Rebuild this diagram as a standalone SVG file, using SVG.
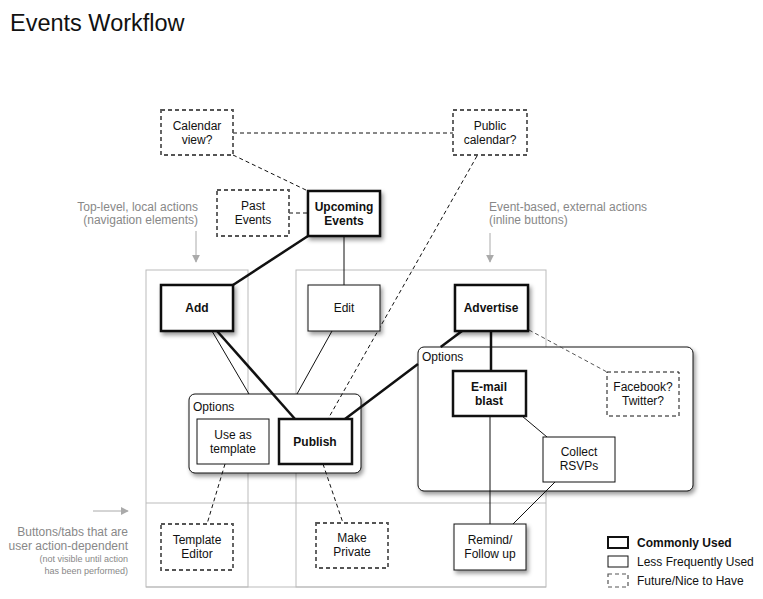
<svg xmlns="http://www.w3.org/2000/svg" width="763" height="599" viewBox="0 0 763 599">
<defs>
<filter id="sh" x="-20%" y="-20%" width="150%" height="160%">
<feDropShadow dx="2" dy="3" stdDeviation="2" flood-color="#000" flood-opacity="0.4"/>
</filter>
<marker id="ga" viewBox="0 0 10 10" refX="9" refY="5" markerWidth="8" markerHeight="8" markerUnits="userSpaceOnUse" orient="auto">
<path d="M0,0 L10,5 L0,10 z" fill="#aaa"/>
</marker>
</defs>
<style>
text{font-family:"Liberation Sans",Arial,sans-serif;font-size:12px;fill:#111;}
.t{text-anchor:middle;}
.b{font-weight:bold;}
.g{fill:#888;}
.thick{fill:#fff;stroke:#111;stroke-width:2.5;}
.thin{fill:#fff;stroke:#111;stroke-width:1;}
.dash{fill:#fff;stroke:#555;stroke-width:1.8;stroke-dasharray:4,3;}
.dashb{fill:#fff;stroke:#111;stroke-width:1;stroke-dasharray:4,3;}
.opt{fill:#fff;stroke:#111;stroke-width:1;}
.frame{fill:none;stroke:#bbb;stroke-width:1;}
.c1{stroke:#111;stroke-width:1;fill:none;}
.c3{stroke:#111;stroke-width:2.5;fill:none;}
.cd{stroke:#111;stroke-width:1;stroke-dasharray:4,3;fill:none;}
.cg{stroke:#aaa;stroke-width:1;fill:none;}
</style>
<rect width="763" height="599" fill="#fff"/>
<text x="10" y="31" style="font-size:23.5px">Events Workflow</text>

<g id="frames">
<rect class="frame" x="146" y="270" width="102" height="317"/>
<rect class="frame" x="296" y="270" width="250" height="317"/>
<line class="frame" x1="146" y1="503" x2="546" y2="503"/>
<line class="frame" x1="146" y1="587" x2="546" y2="587"/>
</g>

<g id="annotations">
<text class="g" x="198" y="211" text-anchor="end">Top-level, local actions</text>
<text class="g" x="198" y="224" text-anchor="end">(navigation elements)</text>
<line class="cg" x1="196" y1="231" x2="196" y2="262" marker-end="url(#ga)"/>
<text class="g" x="489" y="211">Event-based, external actions</text>
<text class="g" x="489" y="224">(inline buttons)</text>
<line class="cg" x1="490" y1="233" x2="490" y2="262" marker-end="url(#ga)"/>
<line class="cg" x1="93" y1="511" x2="128" y2="511" marker-end="url(#ga)"/>
<text class="g" x="128" y="536" text-anchor="end">Buttons/tabs that are</text>
<text class="g" x="128" y="550" text-anchor="end">user action-dependent</text>
<text class="g" x="128" y="562" text-anchor="end" style="font-size:9px">(not visible until action</text>
<text class="g" x="128" y="574" text-anchor="end" style="font-size:9px">has been performed)</text>
</g>

<g id="options-left"><rect class="opt" x="189" y="394" width="172" height="79" rx="6" filter="url(#sh)"/><text x="193" y="411">Options</text></g>
<g id="options-right"><rect class="opt" x="418" y="347" width="275" height="144" rx="6" filter="url(#sh)"/><text x="422" y="361">Options</text></g>

<g id="connectors">
<line class="cd" x1="233" y1="133" x2="453" y2="133"/>
<line class="cd" x1="233" y1="155" x2="308" y2="191"/>
<line class="cd" x1="289" y1="213" x2="308" y2="213"/>
<line class="cd" x1="477" y1="156" x2="328" y2="419"/>
<line class="c3" x1="308" y1="236" x2="233" y2="285"/>
<line class="c1" x1="344" y1="236" x2="344" y2="285"/>
<line class="c1" x1="212" y1="331" x2="249" y2="394"/>
<line class="c3" x1="217" y1="331" x2="295" y2="419"/>
<line class="c1" x1="332" y1="331" x2="297" y2="394"/>
<path class="c3" d="M462,331 L440.7,347 M418,364.1 L345,419"/>
<line class="c3" x1="491" y1="331" x2="491" y2="371"/>
<line class="cd" x1="529" y1="330" x2="607" y2="372" style="stroke:#555"/>
<line class="c1" x1="490" y1="416" x2="490" y2="524"/>
<line class="c1" x1="522" y1="416" x2="547" y2="437"/>
<line class="c1" x1="555" y1="482" x2="513" y2="524"/>
<line class="cd" x1="225" y1="464" x2="207" y2="524"/>
<line class="cd" x1="323" y1="464" x2="343" y2="523"/>
</g>

<g id="calendar-view"><rect class="dash" x="161" y="110" width="72" height="45"/><text class="t" x="197" y="130">Calendar</text><text class="t" x="197" y="144">view?</text></g>
<g id="public-calendar"><rect class="dash" x="453" y="110" width="74" height="45"/><text class="t" x="490" y="130">Public</text><text class="t" x="490" y="144">calendar?</text></g>
<g id="past-events"><rect class="dash" x="217" y="190" width="72" height="46"/><text class="t" x="253" y="210">Past</text><text class="t" x="253" y="224">Events</text></g>
<g id="upcoming-events"><rect class="thick" x="308" y="191" width="72" height="45" filter="url(#sh)"/><text class="t b" x="344" y="211">Upcoming</text><text class="t b" x="344" y="225">Events</text></g>
<g id="add"><rect class="thick" x="161" y="285" width="72" height="46" filter="url(#sh)"/><text class="t b" x="197" y="312">Add</text></g>
<g id="edit"><rect class="thin" x="308" y="285" width="72" height="46" filter="url(#sh)"/><text class="t" x="344" y="312">Edit</text></g>
<g id="advertise"><rect class="thick" x="455" y="285" width="73" height="46" filter="url(#sh)"/><text class="t b" x="491" y="312">Advertise</text></g>
<g id="use-as-template"><rect class="thin" x="197" y="419" width="72" height="45"/><text class="t" x="233" y="439">Use as</text><text class="t" x="233" y="453">template</text></g>
<g id="publish"><rect class="thick" x="279" y="419" width="73" height="45"/><text class="t b" x="315" y="446">Publish</text></g>
<g id="email-blast"><rect class="thick" x="453" y="371" width="73" height="45"/><text class="t b" x="489" y="391">E-mail</text><text class="t b" x="489" y="405">blast</text></g>
<g id="facebook-twitter"><rect class="dashb" x="607" y="372" width="72" height="44"/><text class="t" x="643" y="391">Facebook?</text><text class="t" x="643" y="405">Twitter?</text></g>
<g id="collect-rsvps"><rect class="thin" x="543" y="437" width="72" height="45"/><text class="t" x="579" y="456">Collect</text><text class="t" x="579" y="470">RSVPs</text></g>
<g id="template-editor"><rect class="dash" x="161" y="524" width="72" height="46"/><text class="t" x="197" y="544">Template</text><text class="t" x="197" y="558">Editor</text></g>
<g id="make-private"><rect class="dash" x="316" y="523" width="72" height="45"/><text class="t" x="352" y="542">Make</text><text class="t" x="352" y="556">Private</text></g>
<g id="remind"><rect class="thin" x="454" y="524" width="72" height="46" filter="url(#sh)"/><text class="t" x="490" y="544">Remind/</text><text class="t" x="490" y="558">Follow up</text></g>

<g id="legend">
<rect class="thick" x="608" y="537" width="20" height="11" style="stroke-width:2"/>
<text class="b" x="637" y="547">Commonly Used</text>
<rect class="thin" x="608" y="556" width="20" height="11"/>
<text x="637" y="566">Less Frequently Used</text>
<rect class="dash" x="608" y="574" width="20" height="13" style="stroke-width:1.2"/>
<text x="637" y="585">Future/Nice to Have</text>
</g>
</svg>
